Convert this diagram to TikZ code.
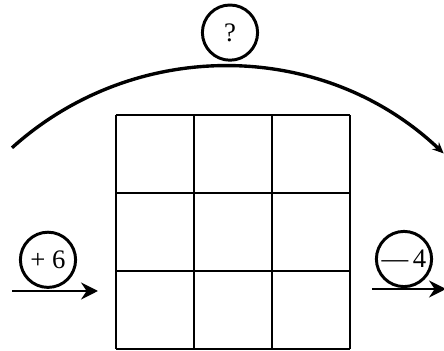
\documentclass[tikz,border=0pt]{standalone}
\usepackage{tikz}
\usetikzlibrary{arrows.meta}
\usepackage{fontspec}
\setmainfont{Liberation Serif}

\begin{document}
\begin{tikzpicture}[
  ball/.style={draw,circle,line width=2.1pt,minimum size=1.38cm,inner sep=0pt,font=\fontsize{19}{22}\selectfont},
  gridline/.style={line width=1.7pt},
  push/.style={-{Stealth[length=12pt,width=12pt]},line width=1.8pt},
]
  \useasboundingbox (0,0) rectangle (11.1,8.775);

  % grid
  \foreach \i in {0,...,3} {
    \draw[gridline] (2.9+1.95*\i,0.05) -- (2.9+1.95*\i,5.9);
    \draw[gridline] (2.9,0.05+1.95*\i) -- (8.75,0.05+1.95*\i);
  }

  % top
  \node[ball] (q) at (5.75,7.96) {?};
  \coordinate (arcL) at (0.3,5.08);
  \draw[-{Stealth[length=8pt,width=7pt]},line width=2.4pt] (arcL) arc[start angle=132,end angle=46.5,radius=7.95];

  % left
  \node[ball] (plus) at (1.2,2.28) {+ 6};
  \coordinate (inL) at (0.3,1.5);
  \coordinate (outL) at (2.45,1.5);
  \draw[push] (inL) -- (outL);

  % right
  \node[ball] (minus) at (10.1,2.3) {---\,4};
  \coordinate (inR) at (9.3,1.55);
  \coordinate (outR) at (11.15,1.55);
  \draw[push] (inR) -- (outR);
\end{tikzpicture}
\end{document}
